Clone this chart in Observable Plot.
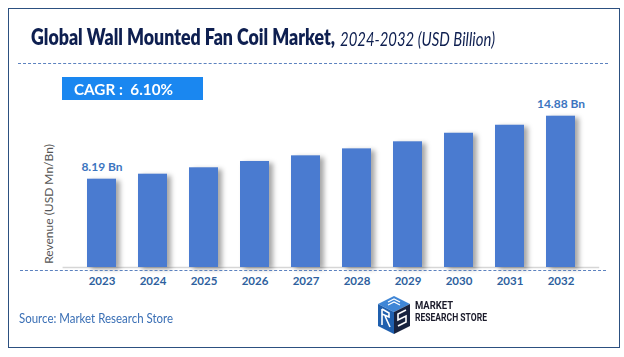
<!DOCTYPE html>
<html><head><meta charset="utf-8">
<script src="https://cdn.jsdelivr.net/npm/d3@7"></script>
<script src="https://cdn.jsdelivr.net/npm/@observablehq/plot@0.6"></script>
<style>
body{margin:0;background:#fff;}
#wrap{position:relative;width:624px;height:357px;overflow:hidden;font-family:Lato,"Open Sans",sans-serif;background:#fff;}
#frame{position:absolute;left:8px;top:8px;width:612px;height:340px;border:1.5px solid #2c5080;box-sizing:border-box;}
.abs{position:absolute;white-space:nowrap;}
#titleB{left:31px;top:25px;font-size:22px;font-weight:800;color:#0e1f50;transform-origin:left center;line-height:24px;}
#titleI{left:340px;top:26px;font-size:20px;font-style:italic;font-weight:400;color:#0e1f50;transform-origin:left center;line-height:24px;}
.dash{position:absolute;height:0;border-top:1.2px dashed #5c82bf;}
#cagr{left:62px;top:77px;width:141px;height:23px;background:#1a87f0;}
#cagrText{left:74px;top:79px;font-size:16px;font-weight:700;color:#fff;line-height:19px;transform-origin:left center;}
#ylab{left:48px;top:204px;font-size:12px;color:#555;transform:translate(-50%,-50%) rotate(-90deg);}
#source{left:19px;top:309px;font-size:13px;color:#3a6fb5;line-height:18px;transform-origin:left center;}
#plot{position:absolute;left:0;top:60px;}
.logoText{left:415px;font-family:"Liberation Sans Narrow","Roboto",sans-serif;font-weight:700;font-size:10.5px;line-height:11px;color:#1b1b2b;transform-origin:left top;}
</style>
</head><body>
<div id="wrap">
  <div id="frame"></div>
  <div id="titleB" class="abs">Global Wall Mounted Fan Coil Market,</div>
  <div id="titleI" class="abs">2024-2032 (USD Billion)</div>
  <div class="dash" style="left:18px;top:63px;width:590px;"></div>
  <div id="cagr" class="abs"></div>
  <div id="cagrText" class="abs">CAGR :&nbsp; 6.10%</div>
  <div id="ylab" class="abs">Revenue (USD Mn/Bn)</div>
  <div id="plot"></div>
  <div class="dash" style="left:20px;top:270px;width:586px;"></div>
  <div id="source" class="abs">Source: Market Research Store</div>
  <svg class="abs" style="left:376px;top:295px" width="36" height="40" viewBox="0 0 36 40">
    <polygon points="18,1 34,9 18,17 2,9" fill="#3f86d6"/>
    <polygon points="2,9 18,17 18,39 2,31" fill="#1f5fae"/>
    <polygon points="18,17 34,9 34,31 18,39" fill="#18233f"/>
    <path d="M6,14 L6,30 M6,14 L13,18 L13,22 L6,19 M9,21 L14,32" stroke="#fff" stroke-width="1.6" fill="none"/>
    <path d="M30,15 L22,19 L22,25 L30,21 L30,27 L22,31" stroke="#fff" stroke-width="1.6" fill="none"/>
    <path d="M12,7 L18,4 L24,7 M12,10 L18,7 L24,10" stroke="#fff" stroke-width="1.2" fill="none"/>
  </svg>
  <div id="logo1" class="abs logoText" style="top:300px">MARKET</div>
  <div id="logo2" class="abs logoText" style="top:312px">RESEARCH STORE</div>
</div>
<script>
// Data
const years = ["2023","2024","2025","2026","2027","2028","2029","2030","2031","2032"];
const values = [8.19, 8.72, 9.40, 10.07, 10.67, 11.41, 12.16, 13.07, 13.92, 14.88];
const valueLabels = ["8.19 Bn","","","","","","","","","14.88 Bn"];

const data = years.map((year, i) => ({year, value: values[i], label: valueLabels[i]}));

// Scale settings (bars do not start at zero in the original)
const axisFloor = -1.19;

const chart = Plot.plot({
  width: 624,
  height: 240,
  marginLeft: 62.6,
  marginRight: 24.8,
  marginTop: 55.7,
  marginBottom: 33,
  style: {fontFamily: "Lato, 'Open Sans', sans-serif", background: "transparent"},
  x: {type: "band", domain: years, padding: 0.436, label: null},
  y: {domain: [axisFloor, 14.88], axis: null},
  marks: [
    Plot.ruleY([axisFloor], {stroke: "#d6d6d6", strokeWidth: 1.5}),
    Plot.barY(data, {x: "year", y1: axisFloor, y2: "value", fill: "#4a7bd0"}),
    Plot.text(data.filter(d => d.label), {x: "year", y: "value", text: "label", dy: -12,
      fill: "#3c75c0", fontWeight: "bold", fontSize: 12}),
    Plot.axisX({tickSize: 0, tickPadding: 9, color: "#2e5f9e", fontWeight: "bold", fontSize: 11.5, label: null})
  ]
});
document.getElementById("plot").appendChild(chart);
d3.select(chart).selectAll("g[aria-label='bar'] rect")
  .style("filter", "drop-shadow(4px 2px 2.5px rgba(0,0,0,0.35))");

function fit(id, target) {
  const el = document.getElementById(id);
  const w = el.getBoundingClientRect().width;
  if (w > 0) el.style.transform = `scaleX(${target / w})`;
}
fit("titleB", 304);
fit("titleI", 155);
fit("cagrText", 99);
fit("source", 154);
fit("logo1", 38);
fit("logo2", 72);
</script>
</body></html>
